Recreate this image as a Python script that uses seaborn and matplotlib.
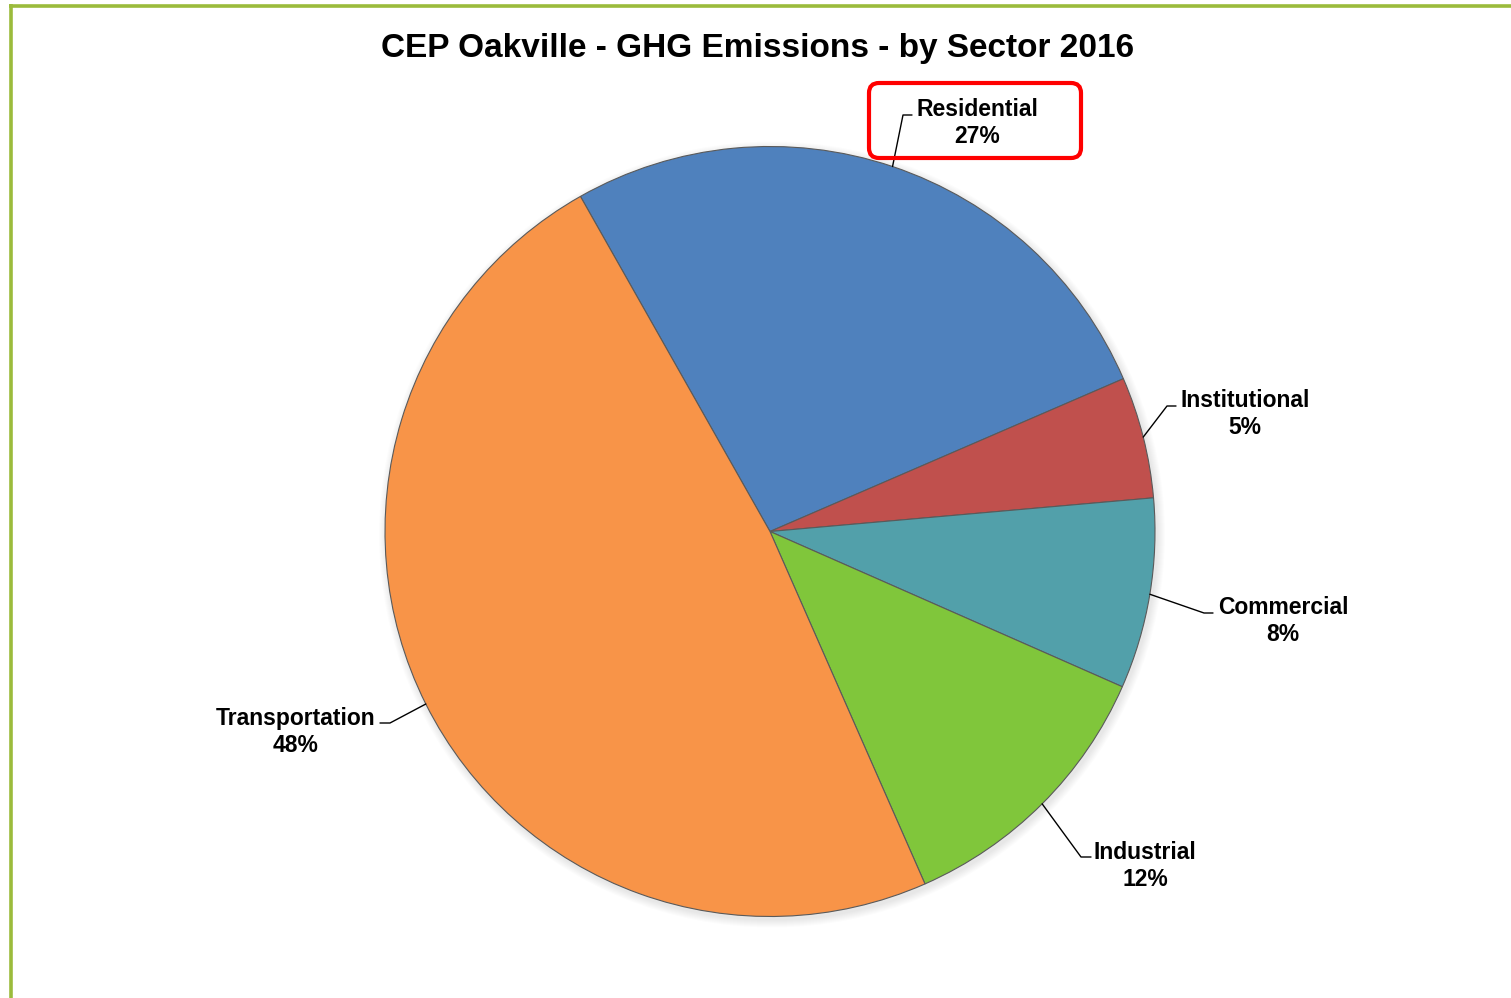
import matplotlib
matplotlib.use("Agg")
import matplotlib.pyplot as plt
import seaborn as sns
import numpy as np
from matplotlib.patches import FancyBboxPatch

# Data (shares; labels show rounded values)
sectors = ['Residential', 'Institutional', 'Commercial', 'Industrial', 'Transportation']
shares = [26.7, 5.1, 8.0, 11.8, 48.4]
colors = ['#4F81BD', '#C0504D', '#52A0AA', '#80C63B', '#F89448']
title = 'CEP Oakville - GHG Emissions - by Sector 2016'

sns.set_theme(style='white')
plt.rcParams['font.family'] = ['Liberation Sans', 'DejaVu Sans']

W, H = 1511, 998
fig = plt.figure(figsize=(W / 100, H / 100), dpi=100)
ax = fig.add_axes([0, 0, 1, 1])

def py(y):
    # pixel row -> data y
    return H - y

cx, cy, r = 770, py(531.5), 385
start = 119.5

# soft shadow behind the pie
for k in range(8):
    ax.add_patch(plt.Circle((cx + 2, cy - 3), r + 8 - k, color='#000000',
                            alpha=0.012, lw=0, zorder=1))

wedges, _ = ax.pie(shares, colors=sns.color_palette(colors), startangle=start,
                   counterclock=False, center=(cx, cy), radius=r, frame=True,
                   wedgeprops=dict(edgecolor='#5a5a5a', linewidth=0.8))
for w in wedges:
    w.set_zorder(2)
ax.set_xlim(0, W)
ax.set_ylim(0, H)
ax.set_aspect('equal')
ax.axis('off')

# label layout: text centre, elbow point, line end (pixel coords)
layout = {
    'Residential': ((977, 123), (903, 115), (912, 115)),
    'Institutional': ((1245, 414), (1167, 406), (1176, 406)),
    'Commercial': ((1283, 621), (1204, 613), (1213, 613)),
    'Industrial': ((1145, 866), (1081, 857), (1091, 857)),
    'Transportation': ((296, 732), (390, 723), (380, 723)),
}

total = sum(shares)
angle = start
for name, val in zip(sectors, shares):
    span = 360 * val / total
    mid = np.deg2rad(angle - span / 2)
    angle -= span
    ex, ey = cx + r * np.cos(mid), cy + r * np.sin(mid)
    (tx, ty), (bx, by), (lx, ly) = layout[name]
    ax.plot([ex, bx, lx], [ey, py(by), py(ly)], color='black', lw=1.0, zorder=3)
    ax.text(tx, py(ty), f'{name}\n{round(100 * val / total)}%', ha='center',
            va='center', fontsize=16.5, fontweight='bold', linespacing=1.22,
            color='black', zorder=4)

# red highlight box around the Residential label
box = FancyBboxPatch((869, py(158)), 212, 75,
                     boxstyle='round,pad=0,rounding_size=10',
                     fill=False, edgecolor='#FF0000', lw=3.0, zorder=5)
ax.add_patch(box)

ax.text(758, py(48), title, ha='center', va='center', fontsize=24,
        fontweight='bold', color='black')

# green frame (left and top)
ax.plot([10.5, 10.5], [0, py(4)], color='#9BBB3C', lw=2.6, solid_capstyle='butt')
ax.plot([9, W], [py(5.5), py(5.5)], color='#9BBB3C', lw=2.6, solid_capstyle='butt')

fig.savefig('out.png', dpi=100, facecolor='white')
